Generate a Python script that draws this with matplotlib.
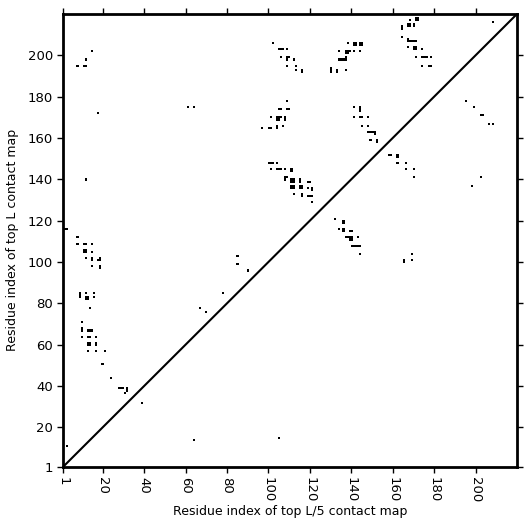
import numpy as np
import matplotlib
matplotlib.use('Agg')
import matplotlib.pyplot as plt

L = 220

# contacts of the top L map (upper-left triangle), (i, j) pairs
top_L = [
    (15, 202), (12, 198), (8, 195), (11, 195), (12, 195), (18, 172), (61, 175), (64, 175),
    (102, 206), (105, 203), (106, 203), (107, 203), (109, 203), (106, 199), (109, 199), (110, 199),
    (109, 198), (112, 198), (109, 195), (113, 195), (113, 193), (116, 193), (116, 192),
    (130, 194), (130, 193), (130, 192), (133, 193), (133, 192), (137, 193),
    (134, 198), (135, 198), (136, 198), (137, 199), (137, 198),
    (134, 202), (137, 202), (138, 202), (139, 202), (137, 201), (138, 201), (141, 202), (144, 202),
    (138, 206), (141, 206), (142, 206), (141, 205), (142, 205), (144, 206), (145, 206), (144, 205), (145, 205),
    (109, 178), (105, 174), (106, 174), (109, 174), (110, 174),
    (101, 170), (104, 170), (105, 170), (106, 170), (108, 170), (108, 169), (104, 169), (105, 169),
    (97, 165), (100, 165), (101, 165), (104, 166), (104, 165), (107, 166),
    (141, 175), (144, 175), (144, 174), (144, 173), (141, 170), (144, 170), (145, 170), (148, 170),
    (145, 166), (148, 166), (148, 163), (149, 163), (150, 163), (151, 163), (151, 162),
    (149, 159), (152, 159), (152, 158),
    (100, 148), (101, 148), (102, 148), (104, 148),
    (171, 218), (172, 218), (171, 217), (172, 217), (168, 217), (167, 215), (168, 215), (167, 214),
    (168, 214), (164, 214), (164, 213), (170, 215), (170, 214), (164, 209), (167, 208), (167, 207),
    (168, 207), (169, 207), (170, 207), (171, 207), (167, 204), (170, 204), (171, 204), (170, 203),
    (171, 203), (174, 203), (171, 199), (174, 199), (175, 199), (176, 199), (178, 199),
    (174, 195), (177, 195), (178, 195), (208, 216),
    (101, 145), (104, 145), (105, 145), (106, 145), (108, 145), (111, 145), (111, 144),
    (108, 141), (109, 141), (108, 140), (111, 140), (112, 140), (111, 139), (112, 139),
    (115, 140), (115, 139), (119, 139), (120, 139), (111, 137), (112, 137), (111, 136), (112, 136),
    (115, 137), (116, 137), (115, 136), (116, 136), (119, 136), (121, 136), (121, 135),
    (112, 133), (116, 133), (116, 132), (119, 132), (120, 132), (121, 132), (121, 129),
    (2, 116), (3, 116), (8, 112), (8, 109), (11, 109), (12, 109), (15, 109),
    (11, 106), (12, 106), (11, 105), (12, 105), (15, 105), (12, 102), (15, 102), (15, 101),
    (18, 101), (19, 101), (19, 102), (15, 98), (19, 98), (19, 97),
    (9, 85), (9, 84), (9, 83), (12, 85), (12, 83), (13, 83), (13, 82), (12, 82), (16, 85), (16, 83),
    (14, 78), (67, 78), (70, 76), (85, 103), (85, 99), (90, 96), (78, 85), (12, 140),
    (10, 71), (10, 68), (10, 67), (13, 67), (14, 67), (15, 67), (10, 64), (13, 64), (14, 64), (17, 64),
    (13, 61), (14, 61), (13, 60), (14, 60), (17, 61), (17, 60), (13, 57), (17, 57), (21, 57),
    (20, 51), (24, 44), (28, 39), (29, 39), (30, 39), (32, 39), (32, 38), (31, 37), (3, 11),
]

# contacts of the top L/5 map (lower-right triangle)
top_L5 = [
    (132, 121), (136, 120), (136, 119), (134, 116), (136, 116), (136, 115), (139, 115), (140, 115),
    (137, 112), (138, 112), (139, 112), (140, 112), (139, 111), (140, 111), (143, 112),
    (140, 108), (141, 108), (142, 108), (143, 108), (144, 108), (144, 104),
    (158, 152), (159, 152), (162, 152), (162, 151), (162, 148), (166, 148), (166, 145),
    (170, 145), (170, 141), (165, 101), (165, 100), (169, 104), (169, 101),
    (195, 178), (199, 175), (202, 171), (203, 171), (206, 167), (208, 167), (198, 137), (202, 141),
    (105, 15), (64, 14), (39, 32),
]

ticks = [1, 20, 40, 60, 80, 100, 120, 140, 160, 180, 200]

cmap = np.zeros((L, L))
for (i, j) in top_L + top_L5:
    cmap[j - 1, i - 1] = 1

fig = plt.figure(figsize=(5.31, 5.31), dpi=100)
ax = fig.add_axes([0.119, 0.121, 0.855, 0.853])
ax.imshow(cmap, cmap='Greys', origin='lower', interpolation='nearest',
          extent=(0.5, L + 0.5, 0.5, L + 0.5), aspect='auto', vmin=0, vmax=1)
ax.plot([1, L], [1, L], color='black', lw=1.5)
ax.set_xlim(1, L)
ax.set_ylim(1, L)
ax.set_xticks(ticks)
ax.set_yticks(ticks)
ax.set_xticklabels([str(t) for t in ticks], rotation=270)
ax.tick_params(top=True, right=True, direction='out', width=1, length=4, labelsize=9.5)
for s in ax.spines.values():
    s.set_linewidth(2)
ax.set_xlabel('Residue index of top L/5 contact map', fontsize=9, labelpad=2)
ax.set_ylabel('Residue index of top L contact map', fontsize=9, labelpad=6)
plt.savefig('out.png')
